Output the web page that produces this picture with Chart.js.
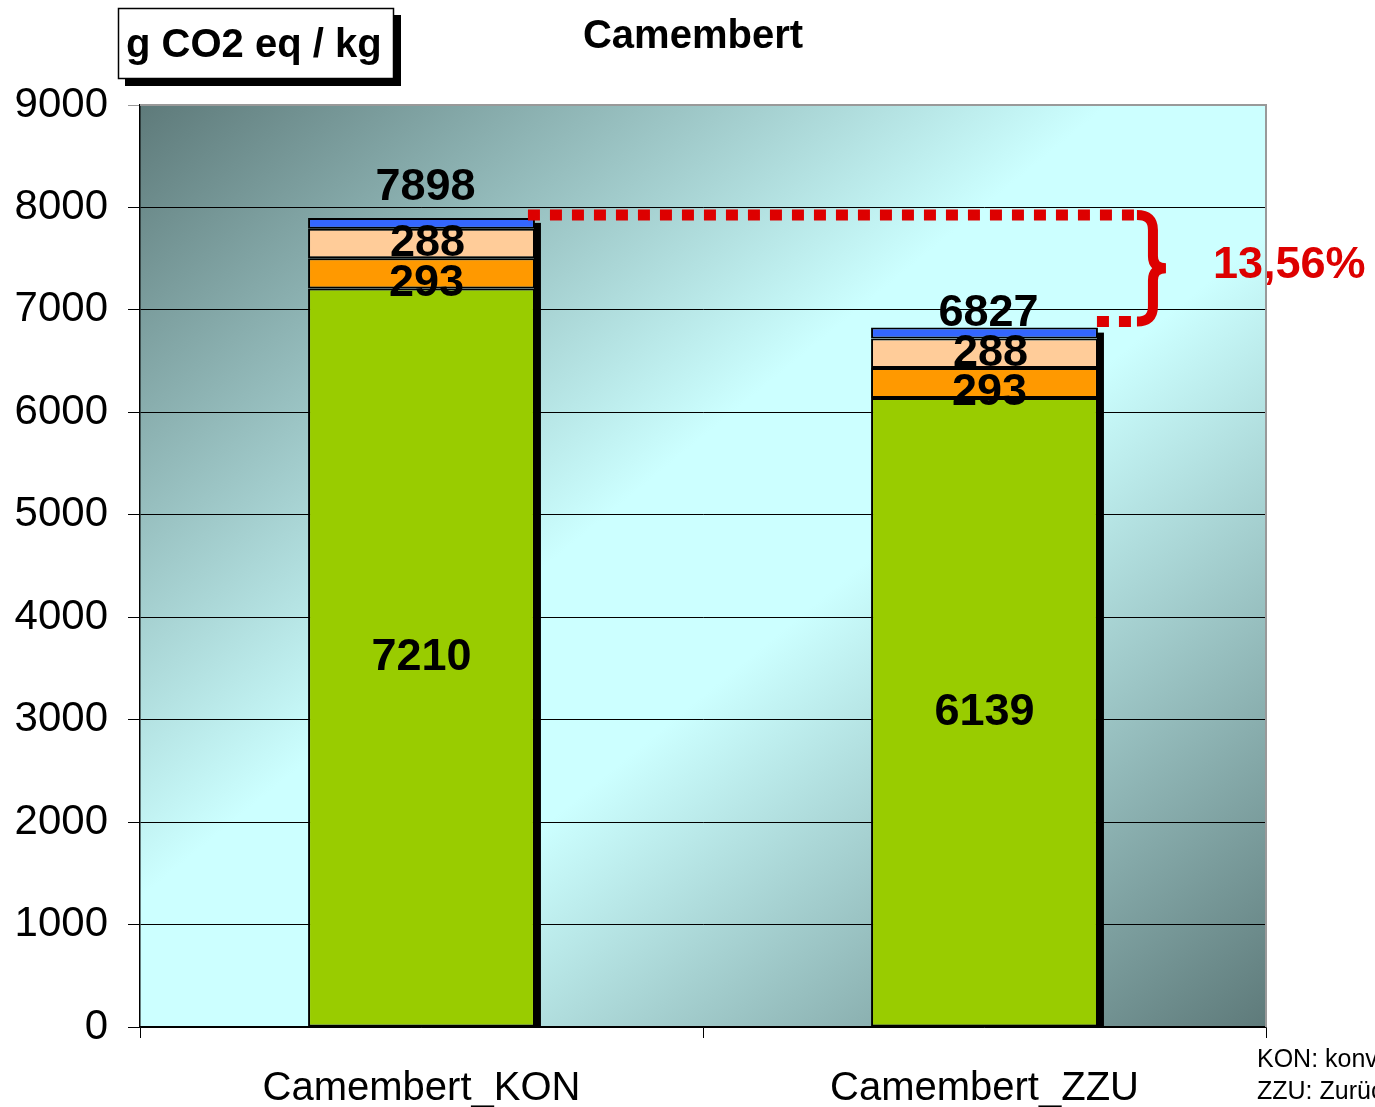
<!DOCTYPE html>
<html>
<head>
<meta charset="utf-8">
<script src="https://cdn.jsdelivr.net/npm/chart.js@4"></script>
<style>
  body { margin: 0; background: #fff; }
  canvas { display: block; }
</style>
</head>
<body>
<canvas id="camembert-plot" width="1375" height="1107"></canvas>
<script>
// Camembert - g CO2 eq / kg

const categories = ['Camembert_KON', 'Camembert_ZZU'];
const milchValues = [7210, 6139];      // green
const energieValues = [293, 293];      // orange
const verpackValues = [288, 288];      // peach
const transportValues = [107, 107];    // blue
const totals = [7898, 6827];
const yTicks = [0, 1000, 2000, 3000, 4000, 5000, 6000, 7000, 8000, 9000];
const reductionLabel = '13,56%';
const notes = ['KON: konventionell', 'ZZU: Zurück'];

const FONT = '"Liberation Sans", Arial, sans-serif';

// gradient plot background + frame
const backgroundPlugin = {
  id: 'plotBackground',
  beforeDraw(chart) {
    let {ctx, chartArea: a} = chart;
    ctx.save();
    ctx.translate(a.left, a.top);
    ctx.scale(a.right - a.left, a.bottom - a.top);
    let g = ctx.createLinearGradient(0, 0, 1, 1);
    g.addColorStop(0, '#5e7a7a');
    g.addColorStop(0.43, '#ccffff');
    g.addColorStop(0.57, '#ccffff');
    g.addColorStop(1, '#5e7a7a');
    ctx.fillStyle = g;
    ctx.fillRect(0, 0, 1, 1);
    ctx.restore();
  },
  afterDraw(chart) {
    let {ctx, chartArea: a} = chart;
    ctx.save();
    ctx.strokeStyle = '#999';
    ctx.lineWidth = 2;
    ctx.beginPath();
    ctx.moveTo(a.left, a.top);
    ctx.lineTo(a.right, a.top);
    ctx.lineTo(a.right, a.bottom);
    ctx.stroke();
    ctx.restore();
  }
};

// black shadow on the right side of each bar
const shadowPlugin = {
  id: 'barShadow',
  beforeDatasetsDraw(chart) {
    let ctx = chart.ctx;
    let topMeta = chart.getDatasetMeta(chart.data.datasets.length - 1);
    let baseMeta = chart.getDatasetMeta(0);
    ctx.save();
    ctx.fillStyle = '#000';
    topMeta.data.forEach((bar, i) => {
      let right = bar.x + bar.width / 2;
      let base = baseMeta.data[i].base;
      ctx.fillRect(right - 1, bar.y + 5, 7, base - bar.y - 5);
    });
    ctx.restore();
  }
};

// segment values, totals, bracket, title and notes
const labelPlugin = {
  id: 'labels',
  afterDatasetsDraw(chart) {
    let {ctx, chartArea: a} = chart;
    let yScale = chart.scales.y;
    ctx.save();
    ctx.fillStyle = '#000';
    ctx.font = 'bold 45px ' + FONT;
    ctx.textAlign = 'center';
    ctx.textBaseline = 'middle';

    let offsets = [[0, 0], [5, 10], [6, 0]];
    [0, 1, 2].forEach(d => {
      let meta = chart.getDatasetMeta(d);
      meta.data.forEach((bar, i) => {
        let v = chart.data.datasets[d].data[i];
        ctx.fillText(String(v), bar.x + offsets[d][0], (bar.y + bar.base) / 2 + offsets[d][1]);
      });
    });

    let topMeta = chart.getDatasetMeta(3);
    let totalOffsets = [30, 14];
    topMeta.data.forEach((bar, i) => {
      ctx.fillText(String(totals[i]), bar.x + 4, yScale.getPixelForValue(totals[i]) - totalOffsets[i]);
    });

    // red dotted bracket
    let b0 = topMeta.data[0], b1 = topMeta.data[1];
    let y0 = yScale.getPixelForValue(totals[0]) - 3;
    let y1 = yScale.getPixelForValue(totals[1]) - 6;
    let bx = b1.x + b1.width / 2 + 55;
    ctx.strokeStyle = '#dd0000';
    ctx.lineWidth = 11;
    ctx.lineCap = 'butt';
    ctx.setLineDash([12, 10]);
    ctx.beginPath();
    ctx.moveTo(b0.x + b0.width / 2 - 7, y0);
    ctx.lineTo(bx - 14, y0);
    ctx.moveTo(b1.x + b1.width / 2 - 1, y1);
    ctx.lineTo(bx - 14, y1);
    ctx.stroke();
    ctx.setLineDash([]);
    ctx.lineWidth = 10;
    let mid = (y0 + y1) / 2;
    ctx.beginPath();
    ctx.moveTo(bx - 16, y0);
    ctx.quadraticCurveTo(bx, y0, bx, y0 + 15);
    ctx.lineTo(bx, mid - 12);
    ctx.quadraticCurveTo(bx, mid, bx + 13, mid);
    ctx.quadraticCurveTo(bx, mid, bx, mid + 12);
    ctx.lineTo(bx, y1 - 15);
    ctx.quadraticCurveTo(bx, y1, bx - 16, y1);
    ctx.stroke();

    ctx.fillStyle = '#dd0000';
    ctx.font = 'bold 45px ' + FONT;
    ctx.textAlign = 'left';
    ctx.fillText(reductionLabel, 1213, mid - 3);
    ctx.restore();
  },
  afterDraw(chart) {
    let ctx = chart.ctx;
    ctx.save();
    // title
    ctx.fillStyle = '#000';
    ctx.font = 'bold 40px ' + FONT;
    ctx.textAlign = 'center';
    ctx.textBaseline = 'middle';
    ctx.fillText('Camembert', 693, 37);

    // unit box with shadow
    ctx.fillStyle = '#000';
    ctx.fillRect(125, 15, 276, 71);
    ctx.fillStyle = '#fff';
    ctx.fillRect(118, 8, 276, 71);
    ctx.strokeStyle = '#000';
    ctx.lineWidth = 1.5;
    ctx.strokeRect(118.5, 8.5, 275, 70);
    ctx.fillStyle = '#000';
    ctx.font = 'bold 40px ' + FONT;
    ctx.textAlign = 'left';
    ctx.fillText('g CO2 eq / kg', 126, 46);

    // notes
    ctx.font = '25px ' + FONT;
    ctx.fillText(notes[0], 1257, 1060);
    ctx.fillText(notes[1], 1257, 1092);
    ctx.restore();
  }
};

new Chart('camembert-plot', {
  type: 'bar',
  data: {
    labels: categories,
    datasets: [
      { data: milchValues, backgroundColor: '#99cc00' },
      { data: energieValues, backgroundColor: '#ff9900' },
      { data: verpackValues, backgroundColor: '#ffcc99' },
      { data: transportValues, backgroundColor: '#3366ff' }
    ].map(ds => Object.assign(ds, {
      borderColor: '#000',
      borderWidth: 2,
      borderSkipped: false,
      barPercentage: 0.403,
      categoryPercentage: 1
    }))
  },
  options: {
    responsive: false,
    animation: false,
    layout: { padding: { top: 105, right: 109, left: 0, bottom: 0 } },
    plugins: {
      legend: { display: false },
      title: { display: false },
      tooltip: { enabled: false }
    },
    scales: {
      x: {
        stacked: true,
        afterFit(scale) { scale.height = 80; },
        border: { color: '#000', width: 1.5 },
        grid: {
          offset: true,
          drawOnChartArea: false,
          drawTicks: true,
          tickLength: 11,
          color: '#000'
        },
        ticks: {
          color: '#000',
          padding: 27,
          font: { family: FONT, size: 40 }
        }
      },
      y: {
        stacked: true,
        min: yTicks[0],
        max: yTicks[yTicks.length - 1],
        afterFit(scale) { scale.width = 140; },
        afterBuildTicks(scale) { scale.ticks = yTicks.map(v => ({ value: v })); },
        border: { color: '#000', width: 1.5 },
        grid: {
          tickLength: 12,
          color: ctx => (ctx.tick && ctx.tick.value === 9000) ? '#999' : '#000',
          lineWidth: 1
        },
        ticks: {
          color: '#000',
          padding: 20,
          font: { family: FONT, size: 42 },
          callback: v => String(v)
        }
      }
    }
  },
  plugins: [backgroundPlugin, shadowPlugin, labelPlugin]
});
</script>
</body>
</html>
